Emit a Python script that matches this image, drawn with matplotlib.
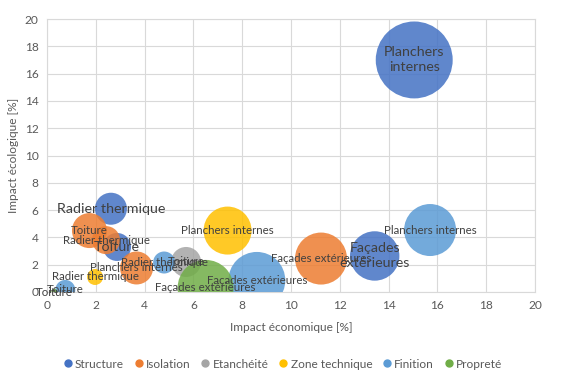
import numpy as np
import matplotlib.pyplot as plt
from matplotlib.lines import Line2D

plt.rcParams['font.family'] = ['Lato', 'DejaVu Sans']

# series: name, colour, points (label, x eco, y ecolo, bubble size)
series = ["Structure", "Isolation", "Etanchéité", "Zone technique", "Finition", "Propreté"]
colors = ["#4472C4", "#ED7D31", "#A5A5A5", "#FFC000", "#5B9BD5", "#70AD47"]

structure_lab = ["Toiture", "Radier thermique", "Planchers\ninternes", "Façades\nextérieures"]
structure_x = [2.87, 2.62, 15.05, 13.43]
structure_y = [3.3, 6.1, 17.0, 2.64]
structure_s = [1.96, 2.56, 14.8, 6.1]

isolation_lab = ["Toiture", "Radier thermique", "Planchers internes", "Façades extérieures"]
isolation_x = [1.74, 2.42, 3.67, 11.23]
isolation_y = [4.5, 3.8, 1.76, 2.45]
isolation_s = [3.06, 1.96, 2.72, 6.76]

etanch_lab = ["Toiture"]
etanch_x = [5.7]
etanch_y = [2.2]
etanch_s = [2.25]

zone_lab = ["Radier thermique", "Planchers internes"]
zone_x = [1.97, 7.4]
zone_y = [1.1, 4.5]
zone_s = [0.64, 5.76]

finition_lab = ["Toiture", "Radier thermique", "Planchers internes", "Façades extérieures"]
finition_x = [0.75, 4.8, 15.7, 8.6]
finition_y = [0.15, 2.16, 4.54, 0.85]
finition_s = [1.0, 1.21, 6.76, 8.1]

proprete_lab = ["Toiture", "Façades extérieures"]
proprete_x = [0.3, 6.5]
proprete_y = [0.0, 0.3]
proprete_s = [0.1, 7.84]

data = [
    (structure_lab, structure_x, structure_y, structure_s),
    (isolation_lab, isolation_x, isolation_y, isolation_s),
    (etanch_lab, etanch_x, etanch_y, etanch_s),
    (zone_lab, zone_x, zone_y, zone_s),
    (finition_lab, finition_x, finition_y, finition_s),
    (proprete_lab, proprete_x, proprete_y, proprete_s),
]

K = 207.36  # size value -> points^2
txt = "#404040"
grey = "#595959"

fig = plt.figure(figsize=(5.64, 3.86), dpi=100)
ax = fig.add_axes([47/564, 1-292/386, 488/564, 273/386])

for i, (lab, x, y, s) in enumerate(data):
    ax.scatter(x, y, s=np.array(s)*K, color=colors[i], alpha=0.85,
               edgecolors='none', zorder=2+i)
    big = (i == 0)
    for l, xx, yy in zip(lab, x, y):
        ax.text(xx, yy, l, ha='center', va='center', color=txt,
                fontsize=10.3 if big else 8.3, zorder=20,
                linespacing=1.3)

ax.set_xlim(0, 20)
ax.set_ylim(0, 20)
ax.set_xticks(np.arange(0, 21, 2))
ax.set_yticks(np.arange(0, 21, 2))
ax.grid(True, color="#D9D9D9", lw=0.8, zorder=0)
ax.set_axisbelow(True)
for sp in ax.spines.values():
    sp.set_color("#D9D9D9")
    sp.set_linewidth(0.8)
ax.tick_params(length=0, colors=grey, labelsize=8.6, pad=6)
ax.set_xlabel("Impact économique [%]", color=grey, fontsize=8.6, labelpad=8)
ax.set_ylabel("Impact écologique [%]", color=grey, fontsize=8.6, labelpad=4)

handles = [Line2D([], [], marker='o', ls='', color=c, ms=5) for c in colors]
fig.legend(handles, series, loc='center', bbox_to_anchor=(0.5, 1-364/386),
           ncol=6, frameon=False, fontsize=8.6, labelcolor=grey,
           handletextpad=0.1, columnspacing=0.75, handlelength=1)

fig.savefig("out.png", dpi=100)
